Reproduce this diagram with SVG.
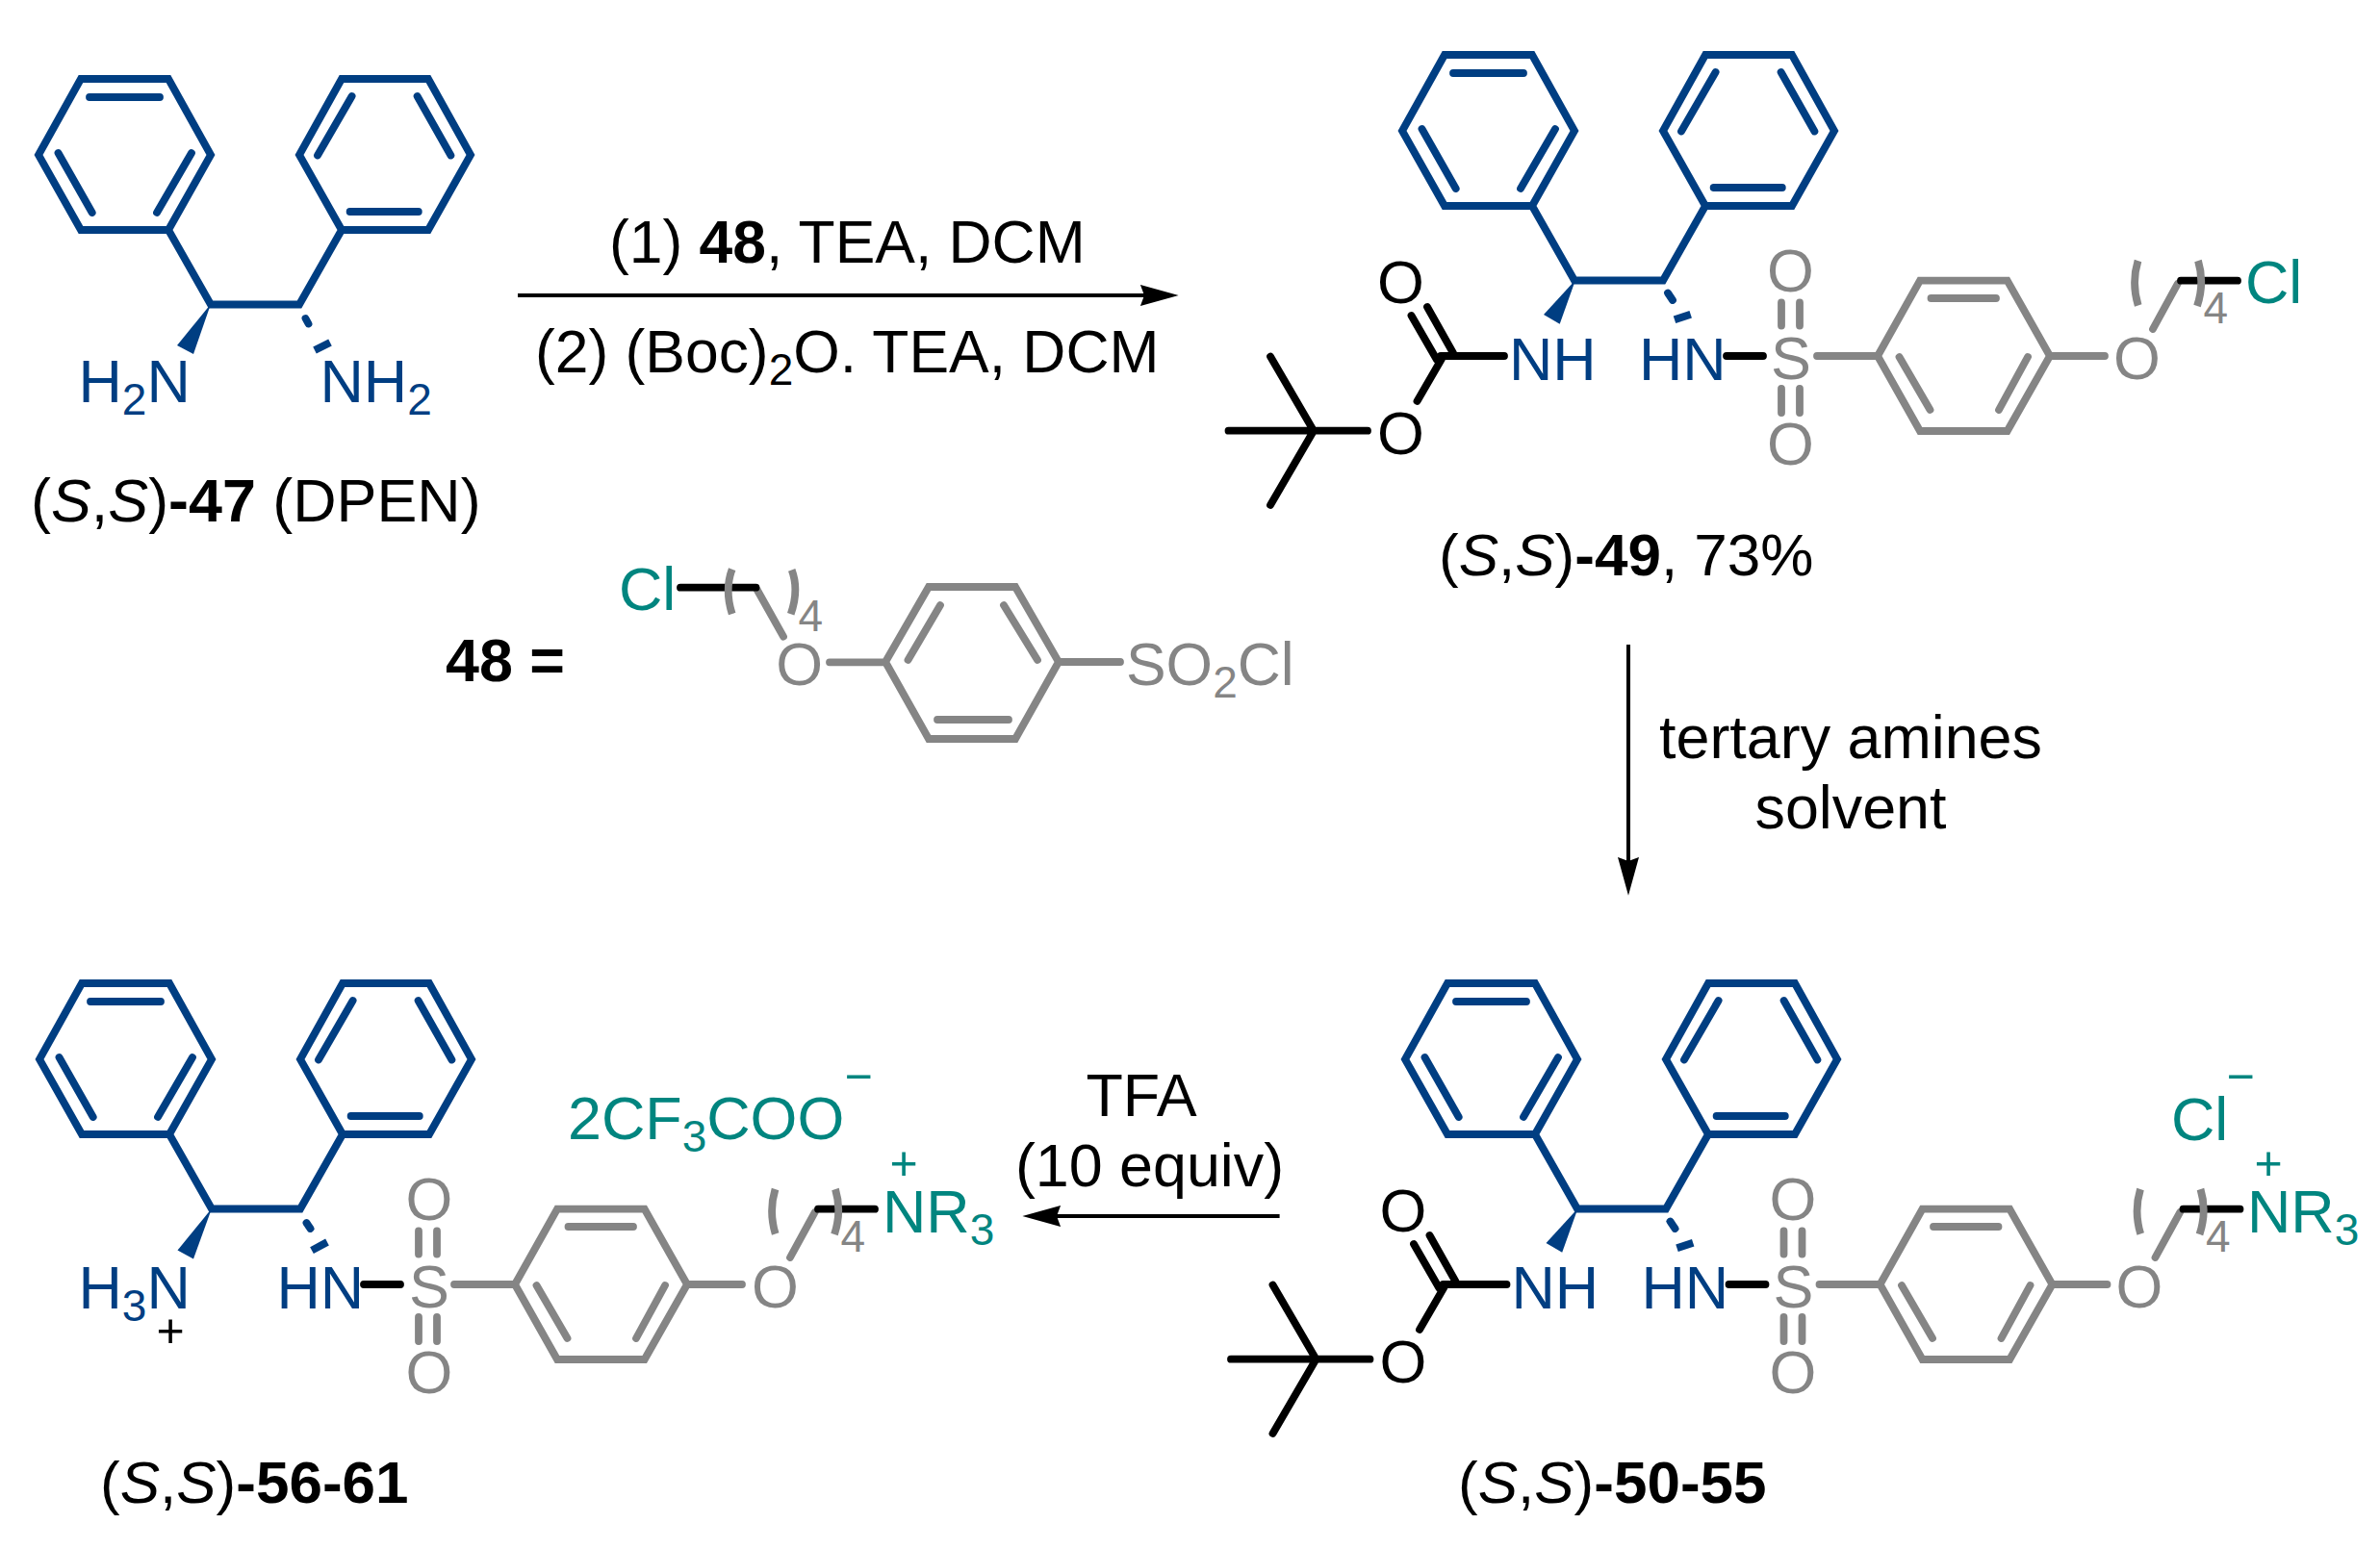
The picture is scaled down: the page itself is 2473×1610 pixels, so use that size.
<svg xmlns="http://www.w3.org/2000/svg" xmlns:xlink="http://www.w3.org/1999/xlink" width="2473" height="1610" viewBox="0 0 2473 1610">
<style>
text{font-family:"Liberation Sans",Arial,sans-serif;font-size:62.8px;fill:#000}
.r{font-size:62.4px}
.cap{font-size:62px}
.s{font-size:46px}
.c{font-size:50px;text-anchor:middle}
.bl{fill:#003e82}.te{fill:#00857f}.gr{fill:#858585}
.b{font-weight:bold}.i{font-style:italic}
.line{fill:none;stroke-width:7.8;stroke-linejoin:miter;stroke-linecap:round}
.dash2{fill:none;stroke-width:7.8;stroke-linecap:butt}
.par{fill:none;stroke:#858585;stroke-width:7.8;stroke-linecap:butt}
.sb{stroke:#003e82}.sg{stroke:#858585}.sk{stroke:#000}
.arrow{fill:none;stroke:#000;stroke-width:4}
</style>
<defs>
<marker id="head" markerUnits="userSpaceOnUse" markerWidth="40" markerHeight="22" viewBox="0 0 39 21.600" refX="4" refY="10.800" orient="auto"><path d="M0 0L39 10.800L0 21.600L4 10.800Z" fill="#000"/></marker>
<g id="diphenyl">
<path class="line sb" d="M84 82H175L219 161L175 239H84L40 161ZM355 82H445L489 161L445 239H355L311 161ZM175 239L219 316.500H311L355 239"/>
<path class="line sb" d="M93 101H166M60.500 159L95.700 221M199 159L163 221M365.600 100L330 161.500M433.600 100L468.400 161.500M363.600 220H434.800"/>
</g>
<g id="boc">
<path class="line sk" d="M1466.500 328L1493 374M1483 319L1510 367M1497 370H1563M1498 373L1472.500 417"/>
<path class="line sk" d="M1276.500 447.700H1421M1320 370.500L1365 447.700L1320 525"/>
</g>
<g id="tail">
<path class="line sg" d="M1888 370H1951M1995 291.700H2085.700L2130 370L2085.700 448H1995L1951 370ZM2130 370H2187M2262.700 295L2237 342"/>
<path class="line sg" d="M1851 314.500V338.500M1870 314.500V338.500M1851 404V429M1870 404V429M2006.500 310H2074M1973.500 371L2005.500 426M2107 371L2077 426"/>
<path class="line sk" d="M1794 370H1832M2266 291.700H2325"/>
<path class="par" d="M2221.500 271Q2214.500 294 2221.700 317.500M2284 271Q2291 294 2283 318"/>
</g>
</defs>
<rect width="2473" height="1610" fill="#fff"/>
<g id="connectors">
<path class="arrow" marker-end="url(#head)" d="M538 307H1189"/>
<path class="arrow" marker-end="url(#head)" d="M1692 670V895"/>
<path class="arrow" marker-end="url(#head)" d="M1329.600 1264H1098"/>
</g>
<g id="label-step1">
<text class="r" x="633" y="273">(1) <tspan class="b">48</tspan>, TEA, DCM</text>
<text class="r" x="556" y="387">(2) (Boc)<tspan class="s" dy="13">2</tspan><tspan dy="-13">O. TEA, DCM</tspan></text>
</g>
<g id="label-step2">
<text x="1923" y="788" text-anchor="middle">tertary amines</text>
<text x="1923" y="861" text-anchor="middle">solvent</text>
</g>
<g id="label-step3">
<text x="1186" y="1160" text-anchor="middle">TFA</text>
<text x="1194.500" y="1233" text-anchor="middle">(10 equiv)</text>
</g>
<g id="n47">
<use xlink:href="#diphenyl" href="#diphenyl"/>
<path d="M219 316L184 359L201 368Z" fill="#003e82"/>
<path class="line sb" d="M317.500 331L320.500 336.500"/>
<path class="dash2 sb" d="M327 364L343 356"/>
<text class="bl" x="81.500" y="418">H<tspan class="s" dy="13">2</tspan><tspan dy="-13">N</tspan></text>
<text class="bl" x="332.500" y="418">NH<tspan class="s" dy="13">2</tspan></text>
<text x="32" y="542">(<tspan class="i">S</tspan>,<tspan class="i">S</tspan>)<tspan class="b">-47</tspan> (DPEN)</text>
</g>
<g id="n48">
<text class="b" x="463" y="708">48 =</text>
<path class="line sg" d="M786.700 613L814 661.700M862 688.300H920M965 610H1055L1100 688L1055 768H965L920 688ZM1100 688H1164"/>
<path class="line sg" d="M977 629L943.500 686M1043 629L1078 686M974 748H1048"/>
<path class="line sk" d="M707 610.700H785.500"/>
<path class="par" d="M760.700 591.700Q752.700 613 760.700 638M822.700 592.300Q830.500 613 821.700 638.300"/>
<text class="te" x="643" y="634">Cl</text>
<text class="gr s" x="829.500" y="656">4</text>
<text class="gr" x="806.300" y="712">O</text>
<text class="gr r" x="1170" y="712">SO<tspan class="s" dy="13">2</tspan><tspan dy="-13">Cl</tspan></text>
</g>
<g id="n49">
<use xlink:href="#diphenyl" href="#diphenyl" transform="translate(1417 -25)"/>
<path d="M1637 291L1604 327L1620.700 336.700Z" fill="#003e82"/>
<path class="line sb" d="M1733 304.500L1738 312"/>
<path class="dash2 sb" d="M1740 332.300L1756.700 326.700"/>
<use xlink:href="#boc" href="#boc"/>
<use xlink:href="#tail" href="#tail"/>
<text x="1431" y="315">O</text>
<text x="1431" y="471.500">O</text>
<text class="bl" x="1568" y="394.500">NH</text>
<text class="bl" x="1703" y="394.500">HN</text>
<text class="gr" x="1840" y="394">S</text>
<text class="gr" x="1836" y="303">O</text>
<text class="gr" x="1836" y="483">O</text>
<text class="gr" x="2196" y="393.500">O</text>
<text class="gr s" x="2289.500" y="335.500">4</text>
<text class="te" x="2333" y="315">Cl</text>
<text class="cap" x="1495" y="598">(<tspan class="i">S</tspan>,<tspan class="i">S</tspan>)<tspan class="b">-49</tspan>, 73%</text>
</g>
<g id="n50-55">
<use xlink:href="#diphenyl" href="#diphenyl" transform="translate(1420 940)"/>
<path d="M1639.500 1256L1606.500 1292L1623.200 1301.700Z" fill="#003e82"/>
<path class="line sb" d="M1735.500 1269.500L1740.500 1277"/>
<path class="dash2 sb" d="M1742.500 1297.300L1759.200 1291.700"/>
<use xlink:href="#boc" href="#boc" transform="translate(2.500 965)"/>
<use xlink:href="#tail" href="#tail" transform="translate(2.500 965)"/>
<text x="1433.500" y="1280">O</text>
<text x="1433.500" y="1436.500">O</text>
<text class="bl" x="1570.500" y="1359.500">NH</text>
<text class="bl" x="1705.500" y="1359.500">HN</text>
<text class="gr" x="1842.500" y="1359">S</text>
<text class="gr" x="1838.500" y="1268">O</text>
<text class="gr" x="1838.500" y="1448">O</text>
<text class="gr" x="2198.500" y="1358.500">O</text>
<text class="gr s" x="2292" y="1300.500">4</text>
<text class="te" x="2335" y="1281">NR<tspan class="s" dy="13">3</tspan></text>
<text class="te c" x="2357" y="1226">+</text>
<text class="te" x="2256" y="1185">Cl</text>
<text class="te c" x="2328" y="1136">−</text>
<text class="cap" x="1515" y="1562">(<tspan class="i">S</tspan>,<tspan class="i">S</tspan>)<tspan class="b">-50-55</tspan></text>
</g>
<g id="n56-61">
<use xlink:href="#diphenyl" href="#diphenyl" transform="translate(1 940)"/>
<path d="M220 1256L184.500 1299.600L201 1308.500Z" fill="#003e82"/>
<path class="line sb" d="M318.500 1271L322.500 1277"/>
<path class="dash2 sb" d="M324 1299.600L340 1291"/>
<use xlink:href="#tail" href="#tail" transform="translate(-1416 965)"/>
<text class="bl" x="81.500" y="1359.500">H<tspan class="s" dy="13">3</tspan><tspan dy="-13">N</tspan></text>
<text class="c" x="177" y="1400">+</text>
<text class="bl" x="287.500" y="1359.500">HN</text>
<text class="gr" x="425" y="1359">S</text>
<text class="gr" x="421.500" y="1268">O</text>
<text class="gr" x="421.500" y="1448">O</text>
<text class="gr" x="781" y="1358.500">O</text>
<text class="gr s" x="873.500" y="1300.500">4</text>
<text class="te" x="917" y="1281">NR<tspan class="s" dy="13">3</tspan></text>
<text class="te c" x="939" y="1226">+</text>
<text class="te" x="590" y="1184">2CF<tspan class="s" dy="13">3</tspan><tspan dy="-13">COO</tspan></text>
<text class="te c" x="892" y="1136">−</text>
<text class="cap" x="104" y="1562">(<tspan class="i">S</tspan>,<tspan class="i">S</tspan>)<tspan class="b">-56-61</tspan></text>
</g>
</svg>
